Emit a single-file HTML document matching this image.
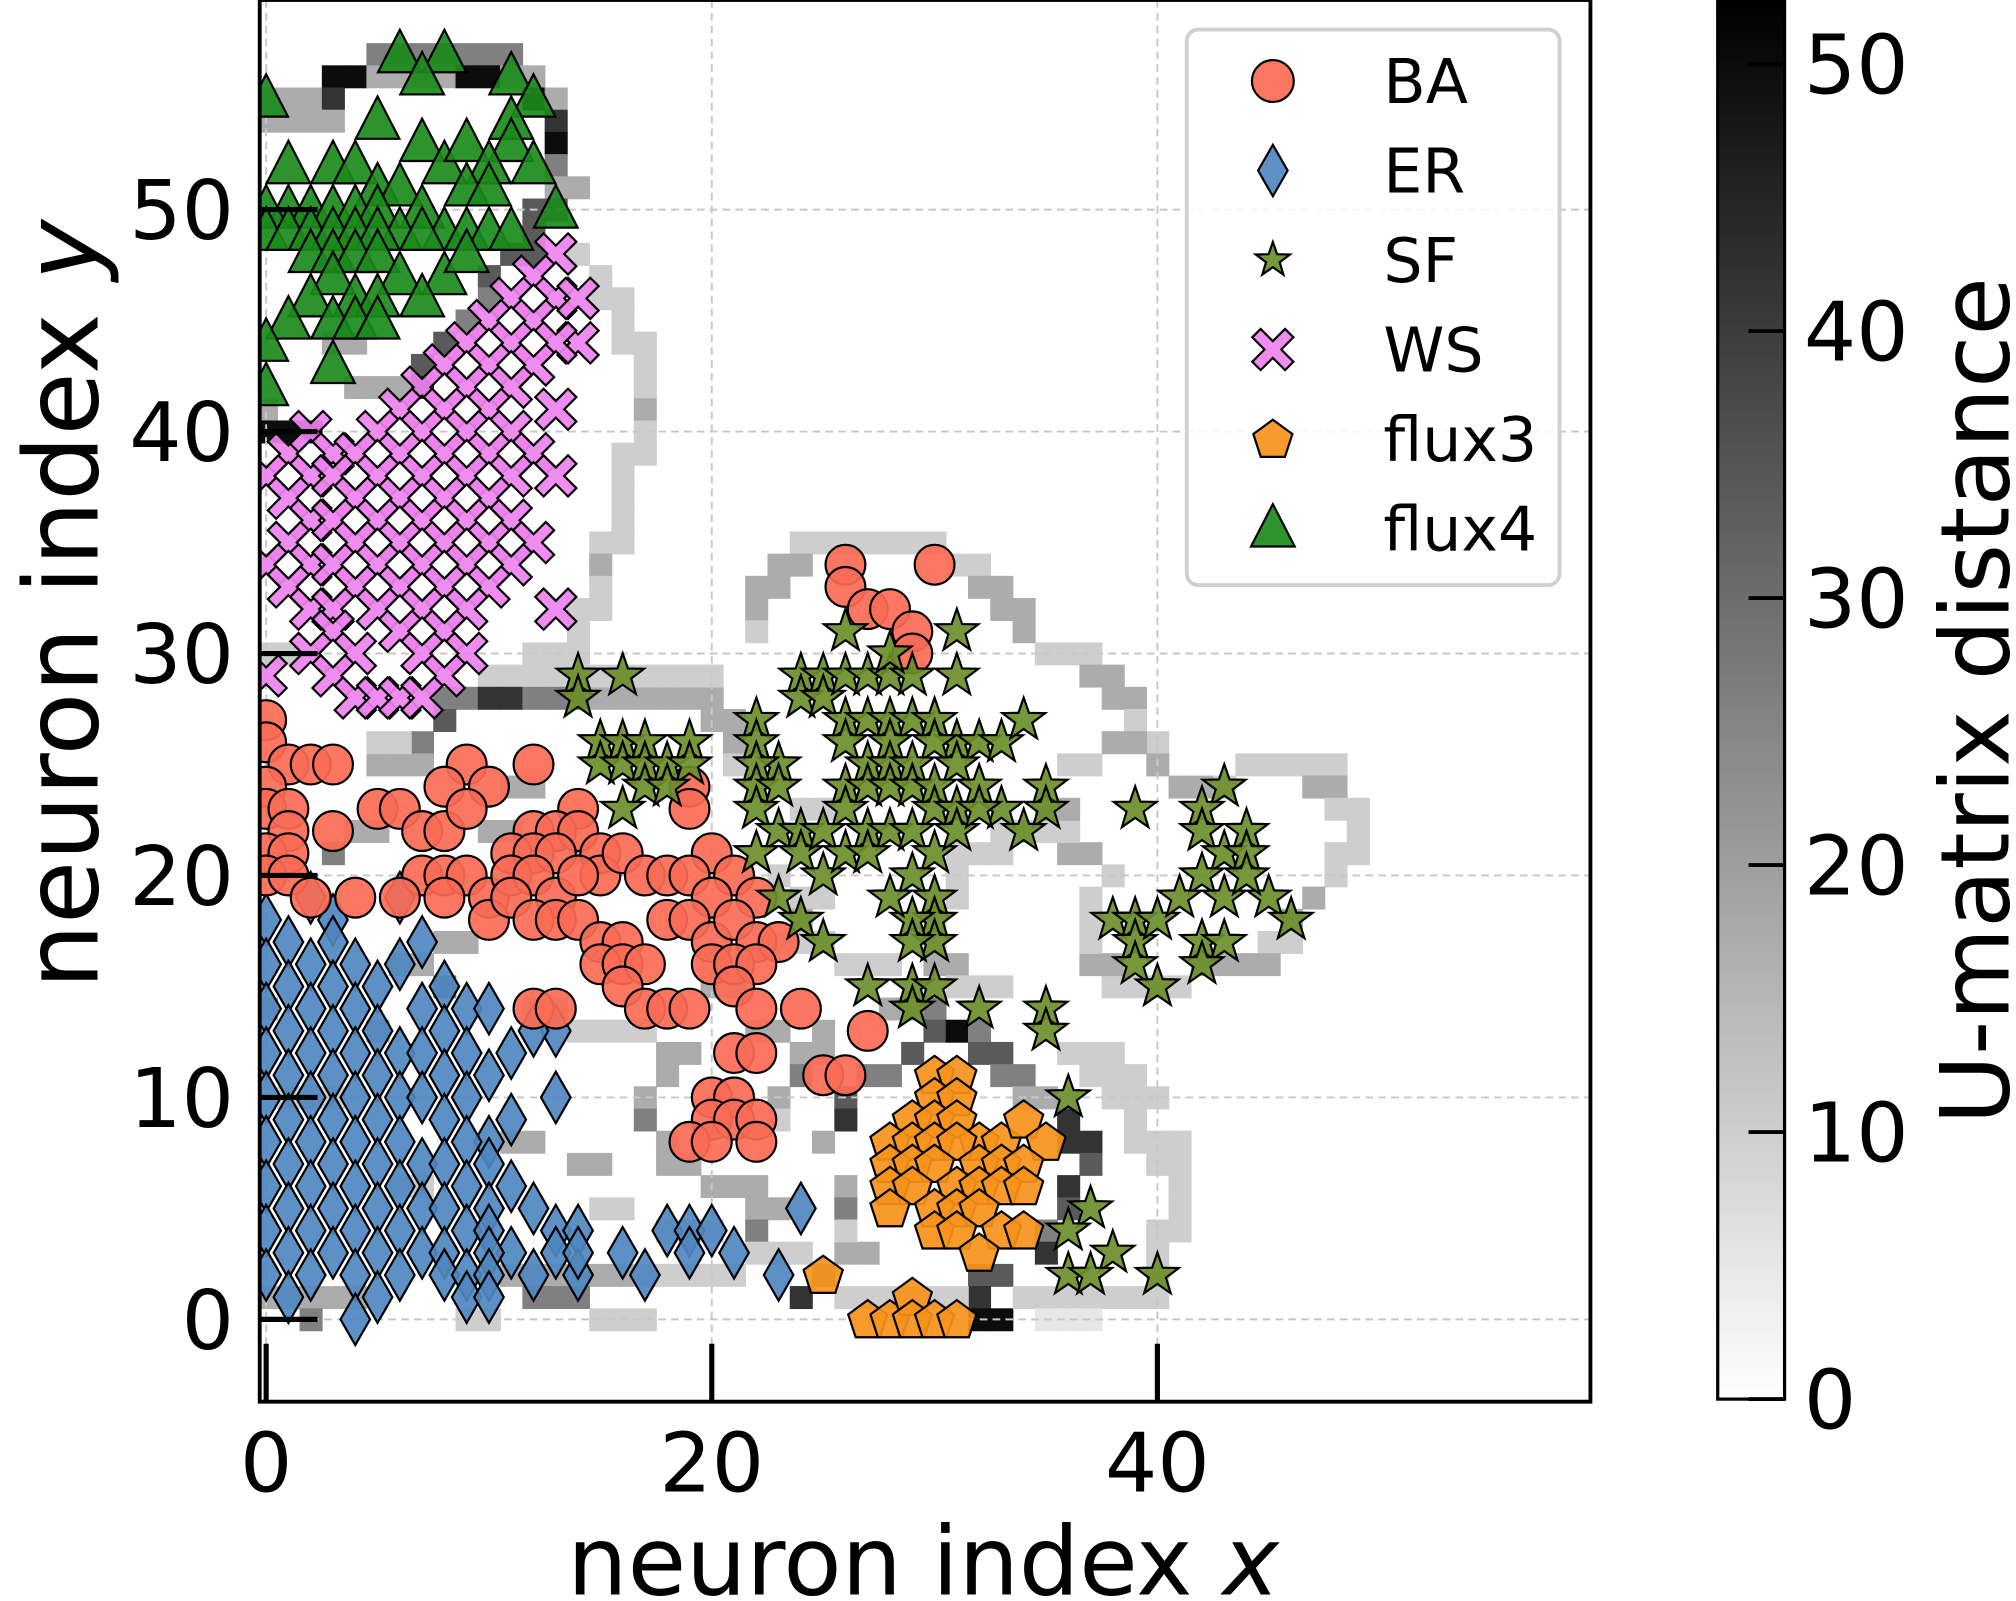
<!DOCTYPE html>
<html><head><meta charset="utf-8"><style>
html,body{margin:0;padding:0;background:#fff;}
svg{display:block;}
text{font-family:"DejaVu Sans","Liberation Sans",sans-serif;fill:#000;}
</style></head><body>
<svg id="chart" width="2016" height="1601" viewBox="0 0 1568 1245" preserveAspectRatio="none" xmlns="http://www.w3.org/2000/svg">
<defs><clipPath id="plotclip"><rect x="202" y="0" width="1035" height="1090"/></clipPath>
<linearGradient id="cbgrad" x1="0" y1="1" x2="0" y2="0"><stop offset="0" stop-color="#fff"/><stop offset="1" stop-color="#000"/></linearGradient></defs>
<rect x="0" y="0" width="1568" height="1245" fill="#fff"/>
<g id="heat" clip-path="url(#plotclip)"></g>
<g id="grid"></g>
<g id="marks" clip-path="url(#plotclip)"></g>
<g id="axes"></g>
<g id="legend"></g>
<g id="cbar"></g>
</svg>
<script>
const xTicks=[0,20,40];
const yTicks=[0,10,20,30,40,50];
const cbTicks=[0,10,20,30,40,50];
const cbMax=52.4;
const levelValues=[0,5,10,17,26,34,42,50];
// heatmap runs: [y, xStart, xEnd, level]
const heatRuns=[[57,5,11,4],[56,3,4,7],[56,5,8,3],[56,9,10,7],[56,11,12,3],[55,0,2,3],[55,3,3,6],[55,12,12,7],[55,13,13,3],[54,0,3,3],[54,13,13,6],[53,13,13,7],[52,13,13,4],[51,13,14,3],[50,12,13,5],[49,12,12,5],[48,11,12,5],[47,10,10,5],[46,10,10,4],[45,9,9,4],[44,8,8,5],[43,7,7,5],[42,4,6,3],[42,7,7,6],[41,0,0,3],[40,0,2,7],[44,3,4,3],
[48,14,14,2],[47,15,15,2],[46,15,16,2],[45,16,16,2],[44,16,17,2],[43,17,17,2],[42,17,17,2],[41,17,17,3],[40,17,17,2],[39,16,17,2],[38,16,16,2],[37,16,16,2],[36,16,16,2],[35,15,16,2],[34,15,15,3],[33,15,15,2],[32,14,15,2],[31,14,14,2],[30,12,14,2],[29,10,13,2],[30,0,1,2],
[28,8,9,4],[28,10,11,6],[28,12,14,4],[28,15,17,3],[28,18,20,3],[29,14,20,2],[27,8,8,5],[26,7,7,4],[27,20,21,3],[26,21,21,3],[25,21,21,2],[25,5,7,3],[26,5,6,2],[22,4,5,3],[21,3,3,4],[22,10,11,3],[24,11,12,3],[21,14,14,3],
[35,24,30,2],[34,23,24,3],[34,31,32,2],[33,22,23,3],[33,32,33,3],[32,22,22,3],[32,33,34,3],[31,22,22,2],[31,34,34,3],[30,35,37,2],[29,37,38,3],[28,38,39,3],[27,39,39,2],[26,40,40,2],[25,40,40,3],[25,44,48,2],[24,41,42,3],[24,43,43,2],[24,47,48,3],[23,48,49,2],[22,49,49,2],[21,48,49,2],[20,48,48,2],[19,47,47,3],[18,46,46,3],[17,45,46,2],[16,42,45,3],[15,38,41,2],[16,37,38,3],[17,37,37,2],[18,37,37,2],[19,37,37,2],[20,38,38,2],[21,36,37,3],[22,33,36,2],[21,31,33,2],[20,31,31,2],[19,31,31,2],[18,30,30,2],[17,30,30,2],[16,30,31,3],[15,31,33,2],[25,36,37,2],[23,35,36,3],[26,38,39,3],[23,24,25,2],[20,23,23,2],[19,24,25,2],[16,26,28,2],[17,25,25,2],
[14,28,29,3],[14,30,30,4],[13,30,30,5],[13,31,31,7],[13,32,32,4],[12,29,29,5],[12,32,33,5],[11,27,28,4],[11,33,34,4],[10,26,26,5],[10,34,35,3],[9,26,26,6],[9,36,36,6],[8,25,25,3],[8,36,37,6],[7,37,37,5],[6,36,36,6],[5,36,36,5],[4,35,35,4],[3,35,35,6],[2,25,25,4],[2,32,33,5],[1,24,24,6],[1,32,32,6],[0,32,33,7],[3,26,27,3],[6,26,26,3],[5,26,26,4],[4,26,26,2],[1,26,31,2],
[12,36,38,2],[11,37,39,2],[10,38,40,2],[9,39,39,2],[8,39,41,2],[7,40,41,2],[6,41,41,2],[5,41,41,2],[4,40,41,2],[3,40,40,2],[2,40,40,2],[1,34,40,2],[0,35,37,1],
[12,18,19,3],[11,18,18,3],[10,17,17,3],[9,17,17,4],[8,18,18,3],[7,18,19,3],[6,20,22,3],[5,22,23,3],[4,22,22,4],[13,14,17,2],[14,12,13,3],[12,24,25,3],[11,24,24,4],[10,23,23,3],[9,23,23,2],[13,25,25,3],[13,22,23,3],[15,20,21,3],[16,20,20,2],[2,11,16,3],[1,12,14,4],[0,15,17,2],[2,17,21,2],[3,22,24,2],[1,0,4,3],[0,2,2,4],[0,9,10,2],[6,6,7,2],[10,1,3,2],[14,0,0,3],[16,6,7,3],[17,8,9,3],[15,8,8,4],[13,5,5,3],[8,11,12,3],[7,14,15,3],[5,15,16,2],[4,18,20,2],[17,23,24,2],[18,24,24,3]];

const baX=[26,30,26,27,28,29,29,0,0,1,2,3,0,9,12,8,10,14,19,19,0,1,1,3,5,6,7,8,9,12,13,14,15,15,11,12,13,16,20,0,1,0,1,7,8,9,10,11,12,13,14,17,18,19,21,20,22,2,4,6,8,10,11,12,13,14,15,16,18,19,20,21,22,23,15,16,17,20,21,22,16,17,18,21,22,24,12,13,19,21,22,25,26,20,21,20,21,22,19,20,22,27];
const baY=[34,34,33,32,32,31,30,27,26,25,25,25,24,25,25,24,24,23,24,23,23,23,22,22,23,23,22,22,23,22,22,22,21,20,21,21,21,21,21,21,21,20,20,20,20,20,19,20,20,19,20,20,20,20,20,19,19,19,19,19,19,18,19,18,18,18,17,17,18,18,17,18,17,17,16,16,16,16,16,16,15,14,14,15,14,14,14,14,14,12,12,11,11,10,10,9,9,9,8,8,8,13];
const erX=[0,2,3,6,1,3,7,0,2,4,1,3,5,6,8,9,0,2,4,5,7,10,13,1,3,6,8,11,12,0,2,4,7,9,1,3,5,8,10,13,0,2,4,6,7,9,11,1,3,5,8,10,0,2,4,6,7,9,1,3,5,8,10,11,0,2,4,6,9,1,3,5,7,8,10,12,13,14,16,18,19,20,21,24,0,2,4,6,9,10,11,1,3,5,7,8,10,13,14,17,19,0,2,4,6,8,9,10,12,1,5,9,10,4,23,14];
const erY=[18,19,18,19,17,17,17,16,16,16,15,15,15,16,15,14,14,14,14,13,14,14,13,13,13,12,13,12,13,12,12,12,12,12,11,11,11,11,11,10,10,10,10,10,10,10,9,9,9,9,9,8,8,8,8,8,7,8,7,7,7,7,7,6,6,6,6,6,6,5,5,5,5,5,5,5,4,4,3,4,4,4,3,5,4,4,4,4,4,4,3,3,3,3,3,3,3,3,2,2,3,2,2,2,2,2,2,2,2,1,1,1,1,0,2,3];
const sfX=[14,16,14,15,16,17,19,15,16,17,18,19,17,18,16,22,22,23,22,22,23,22,23,24,22,24,25,23,24,25,24,25,24,25,26,26,27,28,29,28,31,31,26,27,28,29,30,31,32,33,34,26,28,30,27,28,29,31,26,27,28,29,30,32,33,35,35,34,30,31,26,27,28,29,30,31,32,25,26,27,29,30,30,30,29,29,28,27,29,30,29,32,35,35,36,37,36,38,36,37,40,39,43,42,42,43,44,44,42,43,45,46,38,39,39,40,41,42,43,39,42,40,44];
const sfY=[29,29,28,26,26,26,26,25,25,25,25,25,24,24,23,27,26,25,25,24,24,23,22,22,21,21,20,19,18,17,29,29,28,28,31,29,29,29,29,30,31,29,27,27,27,27,27,26,26,26,27,26,26,26,25,25,25,25,24,24,24,24,24,24,23,24,23,22,23,23,23,22,22,22,21,22,23,22,21,21,20,19,18,17,18,17,19,15,15,15,14,14,14,13,10,5,4,3,2,2,2,23,24,23,22,21,22,21,20,19,19,18,18,18,17,18,19,17,17,16,16,15,20];
const wsX=[13,12,13,11,14,10,12,14,9,11,13,8,10,12,7,9,11,6,8,10,13,5,7,9,11,1,2,3,4,6,8,10,12,0,2,3,5,7,9,11,13,1,4,6,8,10,2,3,5,7,9,11,1,4,6,8,10,12,0,2,3,5,7,9,11,1,4,6,8,10,2,3,5,7,9,13,3,6,8,2,4,7,9,0,3,8,4,5,6,7];
const wsY=[48,47,46,46,46,45,45,44,44,44,44,43,43,43,42,42,42,41,41,41,41,40,40,40,40,39,40,39,39,39,39,39,39,38,38,38,38,38,38,38,38,37,37,37,37,37,36,36,36,36,36,36,35,35,35,35,35,35,34,34,34,34,34,34,34,33,33,33,33,33,32,32,32,32,32,32,31,31,31,30,30,30,30,29,29,29,28,28,28,28];
const f3X=[30,31,30,31,29,30,31,32,33,34,35,28,29,30,31,28,29,30,32,33,34,28,29,31,32,33,34,28,30,31,32,30,31,33,34,32,25,27,28,29,29,30,31];
const f3Y=[11,11,10,10,9,9,9,8,8,9,8,8,8,8,8,7,7,7,7,7,7,6,6,6,6,6,6,5,5,5,5,4,4,4,4,3,2,0,0,1,0,0,0];
const f4X=[6,8,7,11,12,0,5,7,11,8,9,11,10,12,1,3,4,5,6,7,9,10,1,2,3,4,5,6,8,9,10,13,0,0,1,2,3,4,5,7,11,2,3,4,5,6,8,9,3,2,4,7,5,3,1,4,0,3,0,5];
const f4Y=[57,57,56,56,55,55,54,53,54,52,53,53,52,52,52,52,52,51,51,50,51,51,50,50,50,50,50,49,49,49,49,50,50,49,49,49,49,49,49,49,49,48,48,48,48,47,47,48,47,46,46,46,46,45,45,45,44,43,42,45];
const seriesNames=["BA","ER","SF","WS","flux3","flux4"];

const SVGNS="http://www.w3.org/2000/svg";
const X0=207,XS=17.33,Y0=1026,YS=17.26;
const sx=v=>X0+v*XS, sy=v=>Y0-v*YS;
function el(tag,attrs,parent){const e=document.createElementNS(SVGNS,tag);for(const k in attrs)e.setAttribute(k,attrs[k]);parent.appendChild(e);return e;}
function grayOf(v){const g=Math.round(255*(1-Math.min(v,cbMax)/cbMax));return `rgb(${g},${g},${g})`;}

const heat=document.getElementById('heat');
heatRuns.forEach(r=>{
  for(let x=r[1];x<=r[2];x++){
    const c=el('rect',{x:sx(x-0.5),y:sy(r[0]+0.5),width:XS+0.6,height:YS+0.6,fill:grayOf(levelValues[r[3]])},heat);
    
    
  }
});

const grid=document.getElementById('grid');
xTicks.forEach(t=>{const l=el('line',{x1:sx(t),x2:sx(t),y1:0,y2:1090,stroke:'#c8c8c8','stroke-width':1.5,'stroke-dasharray':'6,4'},grid);

});
yTicks.forEach(t=>{const l=el('line',{x1:202,x2:1237,y1:sy(t),y2:sy(t),stroke:'#c8c8c8','stroke-width':1.5,'stroke-dasharray':'6,4'},grid);

});

function markerPath(type,cx,cy,s){
  const p=[];
  if(type==='diamond'){return `M${cx},${cy-20*s}L${cx+11.5*s},${cy}L${cx},${cy+20*s}L${cx-11.5*s},${cy}Z`;}
  if(type==='star'){for(let i=0;i<10;i++){const a=-Math.PI/2+i*Math.PI/5;const r=i%2?7*s:17.5*s;p.push((cx+r*Math.cos(a)).toFixed(1)+','+(cy+r*Math.sin(a)).toFixed(1));}return 'M'+p.join('L')+'Z';}
  if(type==='pent'){for(let i=0;i<5;i++){const a=-Math.PI/2+i*2*Math.PI/5;p.push((cx+16*s*Math.cos(a)).toFixed(1)+','+(cy+1+16*s*Math.sin(a)).toFixed(1));}return 'M'+p.join('L')+'Z';}
  if(type==='tri'){return `M${cx},${cy-19*s}L${cx+17*s},${cy+14*s}L${cx-17*s},${cy+14*s}Z`;}
  if(type==='x'){const a=6.5*s,b=16*s;const pts=[[0,-a],[b-a,-b],[b,-b+a],[a,0],[b,b-a],[b-a,b],[0,a],[-b+a,b],[-b,b-a],[-a,0],[-b,-b+a],[-b+a,-b]];return 'M'+pts.map(q=>(cx+q[0]).toFixed(1)+','+(cy+q[1]).toFixed(1)).join('L')+'Z';}
}
function drawMarker(parent,type,color,cx,cy,s){
  if(type==='circle')return el('circle',{cx:cx,cy:cy,r:15.5*s,fill:color,stroke:'#000','stroke-width':1.7,'fill-opacity':0.92},parent);
  return el('path',{d:markerPath(type,cx,cy,s),fill:color,stroke:'#000','stroke-width':1.7,'fill-opacity':0.92},parent);
}
const marks=document.getElementById('marks');
const seriesDefs=[[erX,erY,'diamond','#4f87bf','er-point'],[wsX,wsY,'x','#ee82ee','ws-point'],[f4X,f4Y,'tri','#1b8a1b','flux4-point'],[baX,baY,'circle','#fb6b55','ba-point'],[sfX,sfY,'star','#6b8e2a','sf-point'],[f3X,f3Y,'pent','#f7931a','flux3-point']];
seriesDefs.forEach(d=>{
  const g=el('g',{},marks);
  
  
  d[0].forEach((xv,i)=>{
    const m=drawMarker(g,d[2],d[3],sx(xv),sy(d[1][i]),1);
    
    
  });
});

const axes=document.getElementById('axes');
const frame=el('rect',{x:202,y:0,width:1035,height:1090,fill:'none',stroke:'#000','stroke-width':3},axes);


xTicks.forEach(t=>{
  const l=el('line',{x1:sx(t),x2:sx(t),y1:1090,y2:1045,stroke:'#000','stroke-width':4},axes);
  
  
  const tx=el('text',{x:sx(t),y:1160,'font-size':64,'text-anchor':'middle'},axes);tx.textContent=t;
  
  
});
yTicks.forEach(t=>{
  const l=el('line',{x1:202,x2:247,y1:sy(t),y2:sy(t),stroke:'#000','stroke-width':4},axes);
  
  
  const tx=el('text',{x:182,y:sy(t)+23,'font-size':64,'text-anchor':'end'},axes);tx.textContent=t;
  
  
});
const xl=el('text',{x:718,y:1240,'font-size':74,'text-anchor':'middle'},axes);
xl.innerHTML='neuron index <tspan font-style="italic">x</tspan>';


const yl=el('text',{x:0,y:0,'font-size':80,'text-anchor':'middle',transform:'translate(76,470) rotate(-90)'},axes);
yl.innerHTML='neuron index <tspan font-style="italic">y</tspan>';



const leg=document.getElementById('legend');
const lb=el('rect',{x:923,y:23,width:290,height:432,rx:9,fill:'#fff','fill-opacity':0.85,stroke:'#d0d0d0','stroke-width':3},leg);


const legTypes=[['circle','#fb6b55'],['diamond','#4f87bf'],['star','#6b8e2a'],['x','#ee82ee'],['pent','#f7931a'],['tri','#1b8a1b']];
seriesNames.forEach((n,i)=>{
  const cy=63+i*69.6;
  const g=el('g',{},leg);
  
  
  const s=(legTypes[i][0]==='star')?0.8:(legTypes[i][0]==='circle'?1.05:1.0);
  drawMarker(g,legTypes[i][0],legTypes[i][1],990,cy,s);
  const t=el('text',{x:1076,y:cy+17,'font-size':48},g);t.textContent=n;
});

const cb=document.getElementById('cbar');
const CBT=0,CBB=1088,cby=v=>CBB-(v/cbMax)*(CBB-CBT);
const cr=el('rect',{x:1336,y:CBT,width:52,height:CBB-CBT,fill:'url(#cbgrad)',stroke:'#000','stroke-width':2.5},cb);


cbTicks.forEach(t=>{
  const l=el('line',{x1:1360,x2:1388,y1:cby(t),y2:cby(t),stroke:'#000','stroke-width':3},cb);
  
  
  const tx=el('text',{x:1403,y:cby(t)+23,'font-size':64},cb);tx.textContent=t;
  
  
});
const ct=el('text',{x:0,y:0,'font-size':74,'text-anchor':'middle',transform:'translate(1562,545) rotate(-90)'},cb);
ct.textContent='U-matrix distance';


</script>
</body></html>
